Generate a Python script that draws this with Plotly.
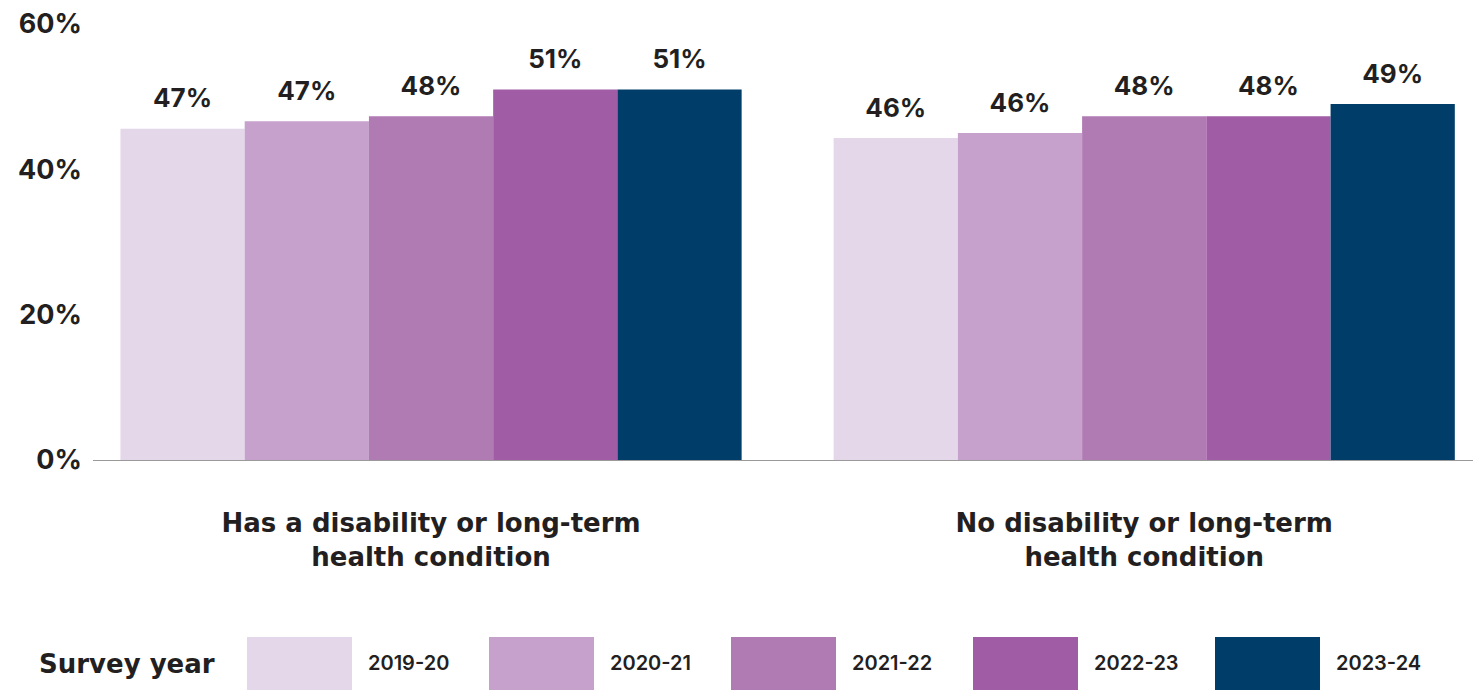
import plotly.graph_objects as go

# ---- data ----
categories = ["Has a disability or long-term<br>health condition",
              "No disability or long-term<br>health condition"]
years = ["2019-20", "2020-21", "2021-22", "2022-23", "2023-24"]
# bar heights (percent) per survey year, in category order
values = {
    "2019-20": [45.6, 44.3],
    "2020-21": [46.6, 45.0],
    "2021-22": [47.3, 47.3],
    "2022-23": [51.0, 47.3],
    "2023-24": [51.0, 49.0],
}
labels = {
    "2019-20": ["47%", "46%"],
    "2020-21": ["47%", "46%"],
    "2021-22": ["48%", "48%"],
    "2022-23": ["51%", "48%"],
    "2023-24": ["51%", "49%"],
}
y_ticks = [0, 20, 40, 60]
y_tick_labels = ["0%", "20%", "40%", "60%"]

# ---- styles ----
colors = ["#e4d7ea", "#c5a1cb", "#b07ab3", "#a05ca5", "#003d68"]
FONT = "Inter, Roboto, 'Open Sans', sans-serif"
WIDE = "'DejaVu Sans', Verdana, sans-serif"
TXT = "#231f20"
LABEL_GAP = 1.7  # spacing (axis units) between bar top and its value label

W, H = 1473, 692
ML, MR, MT, MB = 93, 0, 24, 232
PW, PH = W - ML - MR, H - MT - MB

def px_x(px):
    return (px - ML) / PW

def px_y(py):
    return (H - MB - py) / PH

fig = go.Figure()
for i, (yr, col) in enumerate(zip(years, colors)):
    fig.add_trace(go.Bar(
        name=yr, x=categories, y=values[yr], offsetgroup=str(i),
        marker=dict(color=col, line=dict(width=0)),
        showlegend=False, hoverinfo="skip",
    ))
    # transparent spacer carrying the value label above the bar
    fig.add_trace(go.Bar(
        x=categories, y=[LABEL_GAP] * len(categories), base=values[yr], offsetgroup=str(i),
        marker=dict(color="rgba(0,0,0,0)", line=dict(width=0)),
        text=labels[yr], textposition="outside", cliponaxis=False,
        textfont=dict(family=FONT, size=26, color=TXT, weight=700),
        showlegend=False, hoverinfo="skip",
    ))

fig.update_xaxes(
    range=[-0.474, 1.461], showline=True, linecolor="#9a9a9a", linewidth=1,
    showgrid=False, zeroline=False, ticks="", ticklabelstandoff=40,
    tickfont=dict(family=WIDE, size=26, color=TXT, weight=700),
)
fig.update_yaxes(
    range=[0, 60], tickvals=y_ticks, ticktext=y_tick_labels, showgrid=False,
    zeroline=False, showline=False, ticks="", ticklabelstandoff=10,
    tickfont=dict(family=FONT, size=27, color=TXT, weight=700),
)

# custom legend
shapes = []
annotations = [dict(
    text="<b>Survey year</b>", x=px_x(37), y=px_y(664), xref="paper", yref="paper",
    xanchor="left", yanchor="middle", showarrow=False,
    font=dict(family=WIDE, size=26, color=TXT),
)]
box_start, box_step, box_w = 247, 242, 105
for i, (yr, col) in enumerate(zip(years, colors)):
    x0 = box_start + i * box_step
    shapes.append(dict(type="rect", xref="paper", yref="paper",
                       x0=px_x(x0), x1=px_x(x0 + box_w), y0=px_y(690), y1=px_y(637),
                       fillcolor=col, line=dict(width=0)))
    annotations.append(dict(
        text=yr, x=px_x(x0 + box_w + 14), y=px_y(663), xref="paper", yref="paper",
        xanchor="left", yanchor="middle", showarrow=False,
        font=dict(family=FONT, size=20, color=TXT, weight=600),
    ))

fig.update_layout(
    width=W, height=H, margin=dict(l=ML, r=MR, t=MT, b=MB),
    barmode="group", bargap=0.129, bargroupgap=0,
    plot_bgcolor="white", paper_bgcolor="white",
    shapes=shapes, annotations=annotations, hovermode=False,
)

fig.write_html("out.html", config={"displayModeBar": False},
               post_script="document.body.style.margin='0px';")
